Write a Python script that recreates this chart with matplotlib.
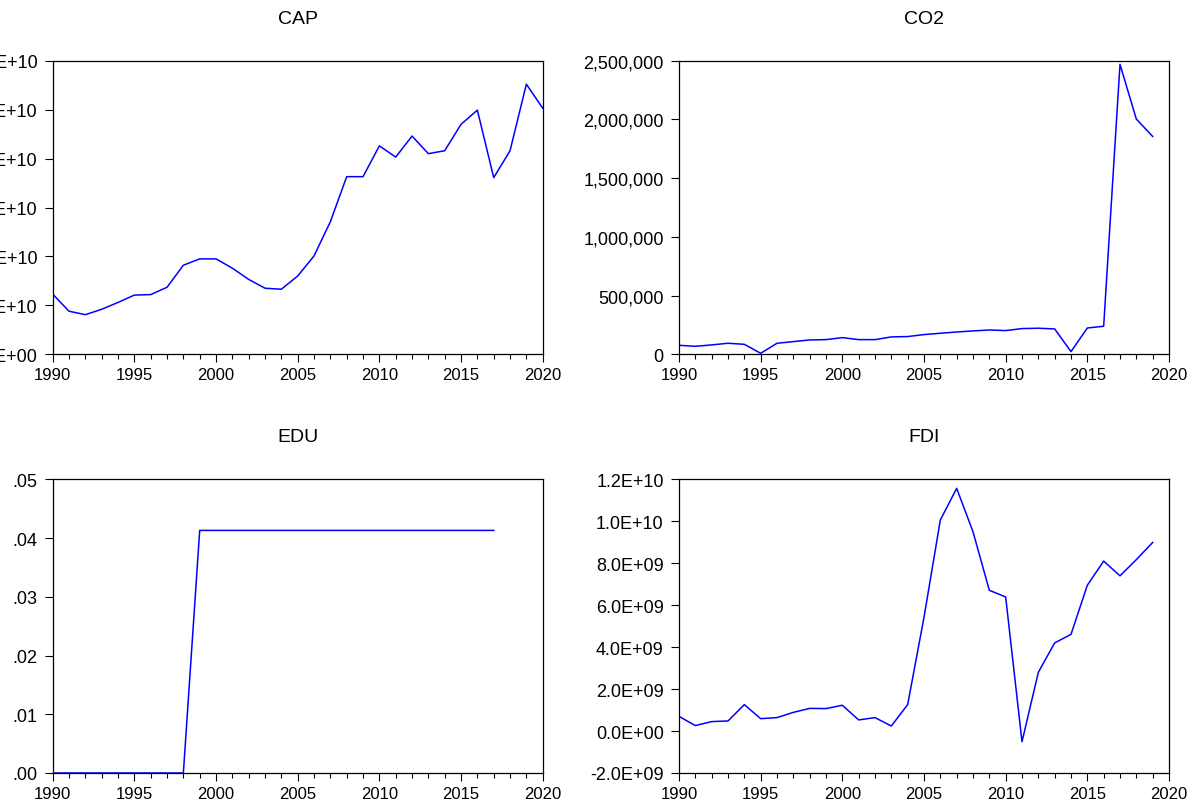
import matplotlib
matplotlib.use("Agg")
import matplotlib.pyplot as plt
from matplotlib.ticker import FuncFormatter, MultipleLocator

years = list(range(1990, 2021))

cap = [1.23, 0.88, 0.81, 0.92, 1.06, 1.21, 1.22, 1.37, 1.82, 1.95,
       1.95, 1.76, 1.53, 1.35, 1.33, 1.60, 2.01, 2.71, 3.63, 3.63,
       4.26, 4.03, 4.46, 4.10, 4.16, 4.70, 4.99, 3.61, 4.16, 5.52, 5.03]
cap = [v * 1e10 for v in cap]

co2_years = list(range(1990, 2020))
co2 = [76700, 68000, 80000, 94000, 85000, 8500, 94000, 108000, 122000, 125000,
       142000, 125000, 125000, 148000, 151000, 168000, 179000, 190000, 199000, 207000,
       202000, 219000, 222000, 216000, 23000, 224000, 239000, 2469000, 2003000, 1855000]

edu_years = list(range(1990, 2018))
edu = [0.0] * 9 + [0.0413] * 19

fdi_years = list(range(1990, 2020))
fdi = [0.70, 0.26, 0.45, 0.48, 1.26, 0.59, 0.64, 0.89, 1.08, 1.07,
       1.23, 0.53, 0.64, 0.24, 1.26, 5.42, 10.06, 11.57, 9.50, 6.71,
       6.39, -0.51, 2.80, 4.20, 4.61, 6.95, 8.10, 7.40, 8.17, 8.99]
fdi = [v * 1e9 for v in fdi]

plt.rcParams['font.family'] = ['Liberation Sans', 'DejaVu Sans']

fig = plt.figure(figsize=(11.92, 8.04), dpi=100)

W, H = 1192, 804
def rect(x0, y0, x1, y1):
    return [x0 / W, 1 - y1 / H, (x1 - x0) / W, (y1 - y0) / H]

def sci(v, _):
    return f"{v:.1E}"

def comma(v, _):
    return f"{v:,.0f}"

def dot(v, _):
    return f"{v:.2f}".lstrip('0')

panels = [
    ("CAP", years, cap, rect(52.7, 61.7, 542.7, 355.3), (0, 6e10), 1e10, sci),
    ("CO2", co2_years, co2, rect(679, 61.7, 1169, 355.3), (0, 2.5e6), 5e5, comma),
    ("EDU", edu_years, edu, rect(52.7, 480.3, 542.7, 774), (0, 0.05), 0.01, dot),
    ("FDI", fdi_years, fdi, rect(679, 480.3, 1169, 774), (-2e9, 1.2e10), 2e9, sci),
]

for title, xs, ys, r, ylim, step, fmt in panels:
    ax = fig.add_axes(r)
    ax.plot(xs, ys, color='#0000ff', lw=1.1)
    ax.set_xlim(1990, 2020)
    ax.set_ylim(*ylim)
    ax.xaxis.set_major_locator(MultipleLocator(5))
    ax.xaxis.set_minor_locator(MultipleLocator(1))
    ax.yaxis.set_major_locator(MultipleLocator(step))
    ax.yaxis.set_major_formatter(FuncFormatter(fmt))
    ax.tick_params(axis='x', which='major', direction='out', length=6, width=0.8, pad=3.5, labelsize=12)
    ax.tick_params(axis='x', which='minor', direction='out', length=3.5, width=0.8)
    ax.tick_params(axis='y', direction='out', length=6, width=0.8, pad=5, labelsize=13)
    for s in ax.spines.values():
        s.set_linewidth(0.9)
    ax.set_title(title, fontsize=14, pad=27.5)

fig.savefig("out.png", dpi=100)
